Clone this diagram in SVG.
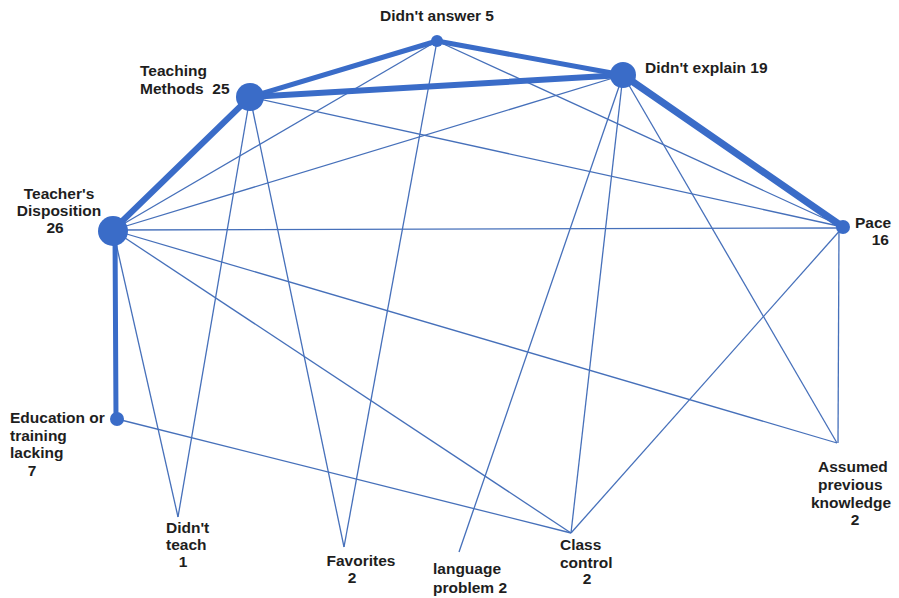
<svg xmlns="http://www.w3.org/2000/svg" width="899" height="598" viewBox="0 0 899 598">
<style>
.lbl{font-family:"Liberation Sans",Arial,sans-serif;font-weight:bold;font-size:15.5px;fill:#1e1e1e}
.m{text-anchor:middle}
.e{text-anchor:end}
.node{fill:#3a6cc8}
.thin{stroke:#4670ba;stroke-width:1.3;fill:none}
.thick{stroke:#3a6cc8;fill:none;stroke-linecap:round}
</style>
<rect width="899" height="598" fill="#ffffff"/>
<g id="connectors">
<line class="thin" x1="437" y1="41" x2="113" y2="230"/>
<line class="thin" x1="437" y1="41" x2="344" y2="547"/>
<line class="thin" x1="437" y1="41" x2="843" y2="227"/>
<line class="thin" x1="250" y1="97" x2="843" y2="227"/>
<line class="thin" x1="250" y1="97" x2="178" y2="517"/>
<line class="thin" x1="250" y1="97" x2="344" y2="547"/>
<line class="thin" x1="623" y1="75" x2="113" y2="230"/>
<line class="thin" x1="623" y1="75" x2="459" y2="552"/>
<line class="thin" x1="623" y1="75" x2="571" y2="533"/>
<line class="thin" x1="623" y1="75" x2="837" y2="443"/>
<line class="thin" x1="113" y1="230" x2="843" y2="228"/>
<line class="thin" x1="113" y1="230" x2="178" y2="517"/>
<line class="thin" x1="113" y1="230" x2="571" y2="533"/>
<line class="thin" x1="113" y1="230" x2="837" y2="443"/>
<line class="thin" x1="117" y1="419" x2="571" y2="533"/>
<line class="thin" x1="843" y1="227" x2="571" y2="533"/>
<line class="thin" x1="839" y1="227" x2="838" y2="443"/>
<line class="thick" stroke-width="5" x1="250" y1="97" x2="437" y2="41"/>
<line class="thick" stroke-width="5" x1="437" y1="41" x2="623" y2="75"/>
<line class="thick" stroke-width="6" x1="250" y1="97" x2="623" y2="75"/>
<line class="thick" stroke-width="6" x1="113" y1="230" x2="250" y2="97"/>
<line class="thick" stroke-width="7" x1="623" y1="75" x2="843" y2="227"/>
<line class="thick" stroke-width="5" x1="115" y1="230" x2="116" y2="419"/>
</g>
<g id="didnt-answer">
<circle class="node" cx="437" cy="41" r="6"/>
<text class="lbl m" x="437" y="21">Didn't answer 5</text>
</g>
<g id="teaching-methods">
<circle class="node" cx="250" cy="97" r="14"/>
<text class="lbl" x="140" y="76">Teaching</text>
<text class="lbl" x="140" y="94" style="white-space:pre">Methods  25</text>
</g>
<g id="didnt-explain">
<circle class="node" cx="623" cy="75" r="13"/>
<text class="lbl" x="645" y="73">Didn't explain 19</text>
</g>
<g id="teachers-disposition">
<circle class="node" cx="113" cy="231" r="15"/>
<text class="lbl m" x="59" y="199">Teacher's</text>
<text class="lbl m" x="59" y="216">Disposition</text>
<text class="lbl m" x="55" y="233">26</text>
</g>
<g id="pace">
<circle class="node" cx="843" cy="227" r="7"/>
<text class="lbl" x="855" y="228">Pace</text>
<text class="lbl e" x="889" y="245">16</text>
</g>
<g id="education">
<circle class="node" cx="117" cy="419" r="7"/>
<text class="lbl" x="10" y="423">Education or</text>
<text class="lbl" x="10" y="441">training</text>
<text class="lbl" x="10" y="458">lacking</text>
<text class="lbl m" x="32" y="476">7</text>
</g>
<g id="didnt-teach">
<text class="lbl" x="166" y="533">Didn't</text>
<text class="lbl" x="166" y="550">teach</text>
<text class="lbl m" x="183" y="567">1</text>
</g>
<g id="favorites">
<text class="lbl m" x="361" y="566">Favorites</text>
<text class="lbl m" x="352" y="583">2</text>
</g>
<g id="language-problem">
<text class="lbl" x="433" y="574">language</text>
<text class="lbl" x="433" y="593">problem 2</text>
</g>
<g id="class-control">
<text class="lbl" x="560" y="550">Class</text>
<text class="lbl" x="560" y="568">control</text>
<text class="lbl m" x="587" y="584">2</text>
</g>
<g id="assumed-previous-knowledge">
<text class="lbl" x="818" y="472">Assumed</text>
<text class="lbl" x="818" y="490">previous</text>
<text class="lbl" x="811" y="508">knowledge</text>
<text class="lbl m" x="855" y="525">2</text>
</g>
</svg>
